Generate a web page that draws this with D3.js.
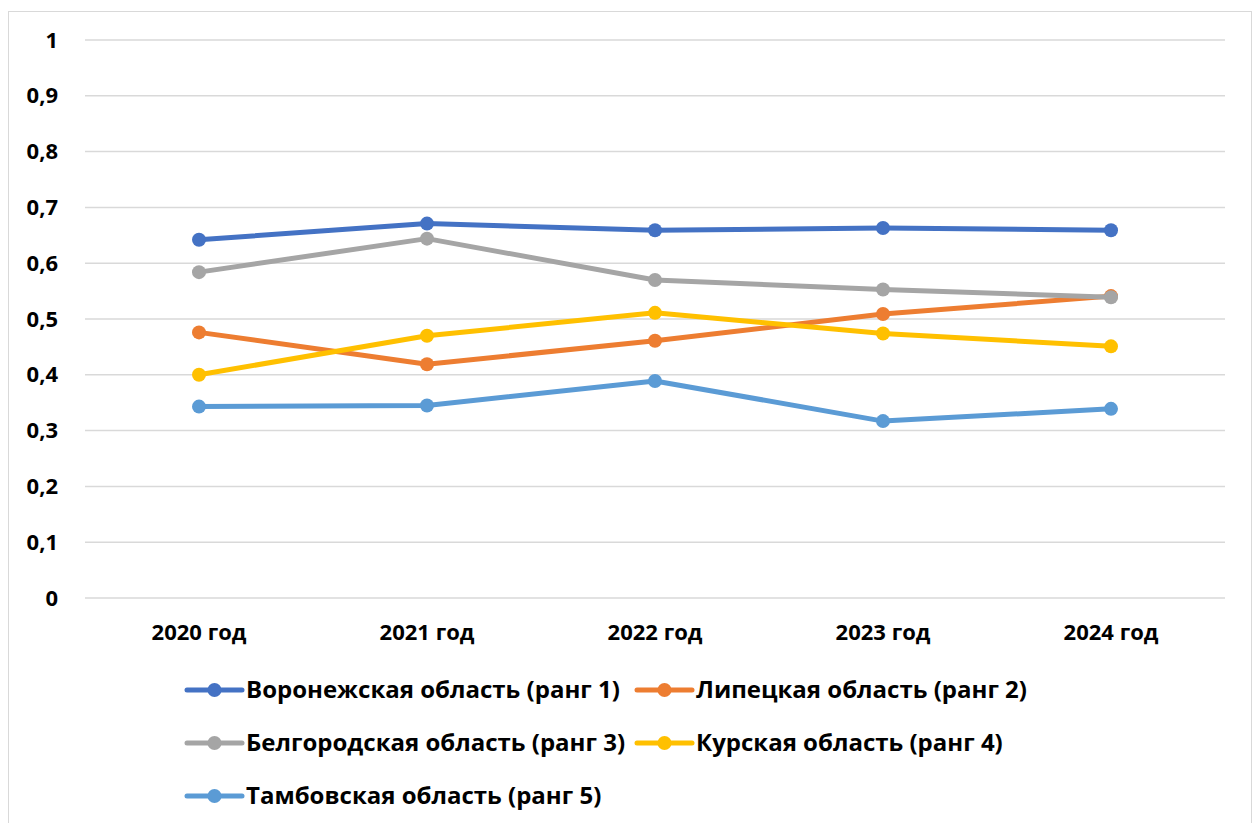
<!DOCTYPE html>
<html><head><meta charset="utf-8">
<script src="https://cdn.jsdelivr.net/npm/d3@7"></script>
<style>
body{margin:0;background:#fff;}
svg{display:block;font-family:"Open Sans","DejaVu Sans",sans-serif;font-weight:bold;}
</style></head>
<body><svg id="c" width="1258" height="823"></svg>
<script>
const categories = ["2020 год","2021 год","2022 год","2023 год","2024 год"];
const seriesNames = ["Воронежская область (ранг 1)","Липецкая область (ранг 2)","Белгородская область (ранг 3)","Курская область (ранг 4)","Тамбовская область (ранг 5)"];
const voronezh = [0.642,0.671,0.659,0.663,0.659];
const lipetsk  = [0.476,0.419,0.461,0.509,0.541];
const belgorod = [0.584,0.644,0.570,0.553,0.539];
const kursk    = [0.400,0.470,0.511,0.474,0.451];
const tambov   = [0.343,0.345,0.389,0.317,0.339];
const colors = ["#4472C4","#ED7D31","#A5A5A5","#FFC000","#5B9BD5"];
const yTicks = [0,0.1,0.2,0.3,0.4,0.5,0.6,0.7,0.8,0.9,1];

const seriesValues = [voronezh, lipetsk, belgorod, kursk, tambov];
const svg = d3.select("#c");
svg.append("rect").attr("x",8.5).attr("y",11.5).attr("width",1243).attr("height",830)
  .attr("fill","#fff").attr("stroke","#D9D9D9").attr("stroke-width",1);

const x = d3.scaleBand().domain(categories).range([85,1225]);
const y = d3.scaleLinear().domain([0,1]).range([598,40]);

const fmt = d => String(d).replace(".",",");
svg.append("g").selectAll("line").data(yTicks).join("line")
  .attr("x1",85).attr("x2",1225).attr("y1",d=>y(d)).attr("y2",d=>y(d))
  .attr("stroke","#D9D9D9").attr("stroke-width",1.5);

const yAxis = svg.append("g").attr("transform","translate(85,0)")
  .call(d3.axisLeft(y).tickValues(yTicks).tickFormat(fmt).tickSize(0).tickPadding(27));
yAxis.select(".domain").remove();
yAxis.selectAll("text").attr("font-size",22).attr("font-family","Open Sans").attr("font-weight","bold").attr("fill","#000");

const xAxis = svg.append("g").attr("transform","translate(0,598)")
  .call(d3.axisBottom(x).tickSize(0).tickPadding(26));
xAxis.select(".domain").remove();
xAxis.selectAll("text").attr("font-size",22).attr("font-family","Open Sans").attr("font-weight","bold").attr("fill","#000");

const cx = c => x(c) + x.bandwidth()/2;
const line = d3.line().x((d,i)=>cx(categories[i])).y(d=>y(d));
seriesValues.forEach((vals,k)=>{
  const g = svg.append("g");
  g.append("path").attr("d",line(vals)).attr("fill","none").attr("stroke",colors[k])
    .attr("stroke-width",5).attr("stroke-linejoin","round").attr("stroke-linecap","round");
  g.selectAll("circle").data(vals).join("circle")
    .attr("cx",(d,i)=>cx(categories[i])).attr("cy",d=>y(d)).attr("r",7).attr("fill",colors[k]);
});

// legend
const legPos = [[187,690],[637,690],[187,743],[637,743],[187,796]];
seriesNames.forEach((n,k)=>{
  const [lx,ly] = legPos[k];
  const g = svg.append("g").attr("transform",`translate(${lx},${ly})`);
  g.append("line").attr("x1",0).attr("x2",55).attr("y1",0).attr("y2",0)
    .attr("stroke",colors[k]).attr("stroke-width",5).attr("stroke-linecap","round");
  g.append("circle").attr("cx",27.5).attr("cy",0).attr("r",7).attr("fill",colors[k]);
  g.append("text").attr("x",59).attr("y",0).attr("dy","0.35em").attr("font-size",24)
    .attr("fill","#000").text(n);
});
</script></body></html>
